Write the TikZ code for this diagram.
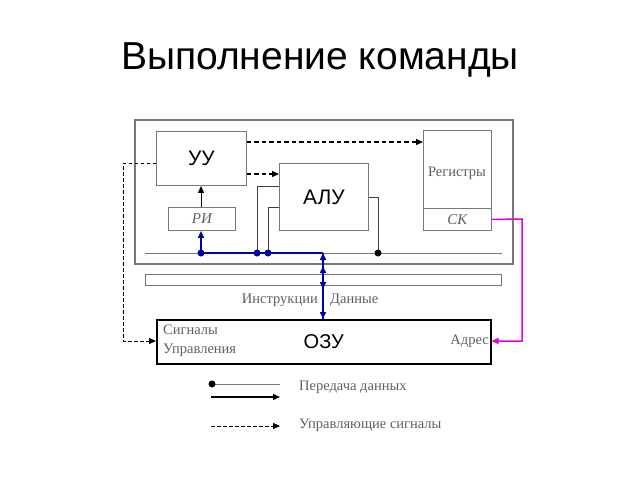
\documentclass[tikz,border=0pt]{standalone}
\usepackage{fontspec}
\setmainfont{Liberation Serif}
\newfontfamily\arial{Liberation Sans}
\usetikzlibrary{arrows.meta}
\definecolor{navyC}{RGB}{0,0,160}
\definecolor{txtgray}{RGB}{95,95,95}
\definecolor{magC}{RGB}{225,0,225}
\definecolor{boxgray}{RGB}{120,120,120}
\begin{document}
\begin{tikzpicture}[x=1pt,y=-1pt,
  box/.style={draw=boxgray,line width=0.9pt,inner sep=0pt,anchor=north west},
  big/.style={font=\arial\fontsize{21}{21}\selectfont},
  serif/.style={font=\fontsize{14.5}{15}\selectfont,text=txtgray,inner sep=0pt},
  tip/.style={-{Triangle[length=7pt,width=6pt]}},
  ctrl/.style={black,line width=1.3pt,dash pattern=on 4.5pt off 3pt,tip},
  datal/.style={black!75,line width=1pt},
  blue/.style={navyC,line width=1.5pt},
  dotb/.style={circle,fill=navyC,inner sep=0pt,minimum size=7pt},
  dotk/.style={circle,fill=black,inner sep=0pt,minimum size=7pt}]
\useasboundingbox (0,0) rectangle (640,480);
% title
\node[font=\arial\fontsize{39}{39}\selectfont] (title) at (320,60) {Выполнение команды};
% CPU frame
\node[box,draw=boxgray,line width=1.5pt,minimum width=378pt,minimum height=144pt] (cpu) at (134,119) {};
% boxes
\node[box,minimum width=90pt,minimum height=54pt,big] (uu) at (156,131) {};
\node[big] at (uu.center) {УУ};
\node[box,minimum width=67pt,minimum height=23pt] (ri) at (168,207) {};
\node[serif,font=\itshape\fontsize{15}{15}\selectfont] at (ri.center) {РИ};
\node[box,minimum width=89pt,minimum height=67pt] (alu) at (279,163) {};
\node[big] at (alu.center) {АЛУ};
\node[box,minimum width=68pt,minimum height=100pt] (reg) at (423,130) {};
\node[box,minimum width=68pt,minimum height=22pt] (sk) at (423,208) {};
\node[serif] (regt) at (457,173) {Регистры};
\node[serif,font=\itshape\fontsize{15}{15}\selectfont] (skt) at (sk.center) {СК};
% bus line and bar
\coordinate (busL) at (145,253);
\coordinate (busR) at (502,253);
\draw[boxgray,line width=0.9pt] (busL) -- (busR);
\node[box,minimum width=356pt,minimum height=11pt] (bar) at (145,274) {};
% ОЗУ
\node[box,draw=black,line width=1.5pt,minimum width=334pt,minimum height=44pt] (ozu) at (156,319) {};
\node[big,font=\arial\fontsize{20}{20}\selectfont] at (ozu.center) {ОЗУ};
\node[serif,anchor=west,align=left,font=\fontsize{14.5}{19}\selectfont] (sig) at (163,341) {Сигналы\\Управления};
\node[serif,anchor=east] (adr) at (489,341) {Адрес};
% ALU connections to bus
\coordinate (b1) at (257,253);
\coordinate (b2) at (268,253);
\coordinate (b3) at (378,253);
\coordinate (b0) at (201,253);
\coordinate (bm) at (323,253);
\draw[datal] (alu.west |- 0,186) -- (257,186) -- (b1);
\draw[datal] (alu.west |- 0,207) -- (268,207) -- (b2);
\draw[datal] (alu.east |- 0,197) -- (378,197) -- (b3);
% blue data path
\draw[blue] (b0) -- (bm);
\draw[blue,tip] (b0) -- (ri.south -| b0);
\draw[blue] (bm) -- (ozu.north -| bm);
\draw[blue,tip] (323,262) -- (bm);
\draw[blue,tip] (323,276) -- (323,266);
\draw[blue,tip] (323,279) -- (323,289);
\draw[blue,tip] (323,310) -- (ozu.north -| bm);
\node[dotb] at (b0) {};
\node[dotb] at (b1) {};
\node[dotb] at (b2) {};
\node[dotk] at (b3) {};
% RI -> UU
\draw[black,line width=1pt,tip] (ri.north -| 201,0) -- (uu.south -| 201,0);
% control signals
\draw[ctrl] (uu.east |- 0,142) -- (reg.west |- 0,142);
\draw[ctrl] (uu.east |- 0,174) -- (alu.west |- 0,174);
\coordinate (cl1) at (123,163);
\coordinate (cl2) at (123,341);
\draw[ctrl,line width=1pt,dash pattern=on 3.5pt off 2.5pt] (uu.west |- cl1) -- (cl1) -- (cl2) -- (ozu.west |- cl2);
% address
\coordinate (m1) at (522,219);
\coordinate (m2) at (522,341);
\draw[magC,line width=1.5pt,tip] (sk.east) -- (m1) -- (m2) -- (ozu.east |- m2);
% labels on blue line
\node[serif,anchor=east] (instr) at (318,300) {Инструкции};
\node[serif,anchor=west] (dann) at (330,300) {Данные};
% legend
\coordinate (l1a) at (212,384);
\coordinate (l1b) at (280,384);
\coordinate (l2a) at (211,397);
\coordinate (l2b) at (280,397);
\coordinate (l3a) at (211,426);
\coordinate (l3b) at (280,426);
\draw[boxgray,line width=0.9pt] (l1a) -- (l1b);
\node[dotk] at (l1a) {};
\draw[black,line width=1.2pt,tip] (l2a) -- (l2b);
\draw[ctrl,line width=1pt,dash pattern=on 3.5pt off 2.5pt] (l3a) -- (l3b);
\node[serif,anchor=west] (leg1) at (299,387) {Передача данных};
\node[serif,anchor=west] (leg2) at (299,425) {Управляющие сигналы};
\end{tikzpicture}
\end{document}
